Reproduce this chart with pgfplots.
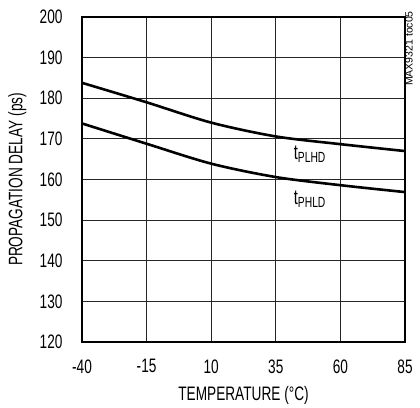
\documentclass[border=0pt]{standalone}
\usepackage{fontspec}
\setmainfont[FakeStretch=0.7]{Liberation Sans}
\newfontfamily\tocfont{Liberation Sans}
\usepackage{pgfplots}
\pgfplotsset{compat=1.18}
\begin{document}
\begin{tikzpicture}
\begin{axis}[
  at={(0,0)}, anchor=south west,
  scale only axis, width=323pt, height=325pt,
  xmin=-40, xmax=85, ymin=120, ymax=200,
  xtick={-40,-15,10,35,60,85},
  xticklabels={-40,-15,10,35,60,85},
  ytick={120,130,...,200},
  /pgf/number format/assume math mode=true,
  grid=major,
  major grid style={black!85, line width=0.8pt},
  axis line style={line width=1.8pt},
  tick style={draw=none},
  ticklabel style={font=\fontsize{19.5}{21}\selectfont},
  xticklabel style={yshift=-14pt},
  yticklabel style={xshift=-16pt},
  xlabel={TEMPERATURE (°C)},
  ylabel={PROPAGATION DELAY (ps)},
  label style={font=\fontsize{19.5}{21}\selectfont},
  xlabel style={at={(axis description cs:0.5,-0.163)}, anchor=center},
  ylabel style={at={(axis description cs:-0.2,0.5)}, anchor=center},
  clip=false,
]
\addplot[black, line width=2.6pt, smooth] coordinates {
 (-40,183.8) (-15,179.0) (10,174.0) (35,170.6) (60,168.7) (85,167.0)};
\addplot[black, line width=2.6pt, smooth] coordinates {
 (-40,173.8) (-15,168.8) (10,163.9) (35,160.6) (60,158.6) (85,156.9)};
\node[font=\fontsize{21}{23}\selectfont] at (axis cs:48.2,166.2) {t\textsubscript{PLHD}};
\node[font=\fontsize{21}{23}\selectfont] at (axis cs:48.2,155.2) {t\textsubscript{PHLD}};
\node[rotate=90, anchor=north east, font=\tocfont\fontsize{10.5}{12}\selectfont, inner sep=0pt] at (rel axis cs:1,1) [xshift=6pt] {MAX9321 toc05};
\end{axis}
\path[use as bounding box] (-82pt,-58pt) rectangle (338pt,342pt);
\end{tikzpicture}
\end{document}
